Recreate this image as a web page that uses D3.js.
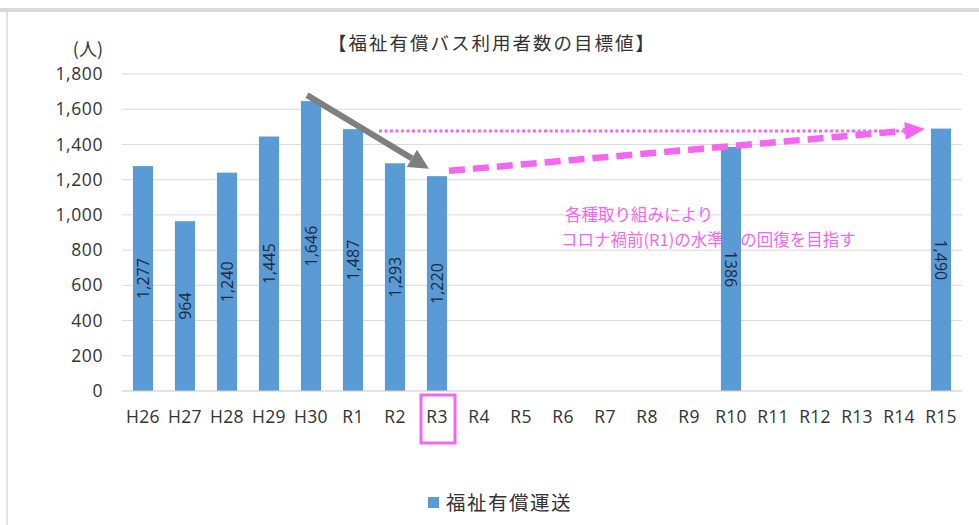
<!DOCTYPE html>
<html>
<head>
<meta charset="utf-8">
<script src="https://cdn.jsdelivr.net/npm/d3@7"></script>
<style>
  html, body { margin: 0; padding: 0; background: #fff; }
  svg { display: block; }
</style>
</head>
<body>
<div id="chart"></div>
<script>
// ---- data ----
const categories = ["H26","H27","H28","H29","H30","R1","R2","R3","R4","R5","R6","R7","R8","R9","R10","R11","R12","R13","R14","R15"];
const values = [1277, 964, 1240, 1445, 1646, 1487, 1293, 1220, null, null, null, null, null, null, 1386, null, null, null, null, 1490];
const dataLabels = ["1,277","964","1,240","1,445","1,646","1,487","1,293","1,220","","","","","","","1386","","","","","1,490"];
const yTicks = [0, 200, 400, 600, 800, 1000, 1200, 1400, 1600, 1800];
const title = "【福祉有償バス利用者数の目標値】";
const unitLabel = "(人)";
const seriesName = "福祉有償運送";
const noteLines = ["各種取り組みにより", "コロナ禍前(R1)の水準への回復を目指す"];
const currentYear = "R3";
const baselineYear = "R1";
const targetYear = "R15";
const peakYear = "H30";

const W = 979, H = 525;
const margin = {left: 122, right: 17, top: 74, bottom: 134};
const BLUE = "#5b9bd5", PINK = "#f466f0", GRAY = "#7f7f7f";
const FONT = "'Open Sans', 'Noto Sans CJK JP', sans-serif";
const JFONT = "'Noto Sans CJK JP', sans-serif";

const svg = d3.select("#chart").append("svg").attr("width", W).attr("height", H);

// frame
svg.append("rect").attr("x", 0).attr("y", 8).attr("width", W).attr("height", 4).attr("fill", "#d9d9d9");
svg.append("rect").attr("x", 6).attr("y", 12).attr("width", 2).attr("height", H - 12).attr("fill", "#e3e3e3");

const x = d3.scaleBand().domain(categories).range([margin.left, W - margin.right]).paddingInner(0.52).paddingOuter(0.26);
const y = d3.scaleLinear().domain([0, 1800]).range([H - margin.bottom, margin.top]);
const cx = c => x(c) + x.bandwidth() / 2;

// gridlines
svg.append("g").selectAll("line").data(yTicks).join("line")
  .attr("x1", margin.left).attr("x2", W - margin.right)
  .attr("y1", d => y(d)).attr("y2", d => y(d))
  .attr("stroke", "#d9d9d9").attr("stroke-width", 1);

// y axis labels
const yAxis = d3.axisLeft(y).tickValues(yTicks).tickFormat(d3.format(",")).tickSize(0).tickPadding(19);
const yg = svg.append("g").attr("transform", `translate(${margin.left},0)`).call(yAxis);
yg.select(".domain").remove();
yg.selectAll("text").attr("font-family", FONT).attr("font-size", 17.5).attr("fill", "#333").attr("letter-spacing", "0.6px");

// x axis labels
const xAxis = d3.axisBottom(x).tickSize(0).tickPadding(20);
const xg = svg.append("g").attr("transform", `translate(0,${y(0)})`).call(xAxis);
xg.select(".domain").remove();
xg.selectAll("text").attr("font-family", FONT).attr("font-size", 17.5).attr("fill", "#333").attr("letter-spacing", "0.3px");

// title and unit
svg.append("text").attr("x", 492).attr("y", 50).attr("text-anchor", "middle")
  .attr("font-family", JFONT).attr("font-size", 18.5).attr("letter-spacing", "2px").attr("fill", "#333").text(title);
svg.append("text").attr("x", 103).attr("y", 56).attr("text-anchor", "end")
  .attr("font-family", JFONT).attr("font-size", 18).attr("fill", "#333").text(unitLabel);

// note text (behind bars)
const note = svg.append("text").attr("font-family", JFONT).attr("font-size", 16.5).attr("fill", PINK);
noteLines.forEach((t, i) => {
  note.append("tspan").attr("x", i === 0 ? 565 : 561).attr("y", 221 + i * 25).text(t);
});

// bars
const data = categories.map((c, i) => ({c, v: values[i], label: dataLabels[i], i}));
const bars = data.filter(d => d.v != null);
svg.append("g").selectAll("rect").data(bars).join("rect")
  .attr("x", d => x(d.c)).attr("width", x.bandwidth())
  .attr("y", d => y(d.v)).attr("height", d => y(0) - y(d.v))
  .attr("fill", BLUE);

// data labels
const curIdx = categories.indexOf(currentYear);
svg.append("g").selectAll("text").data(bars).join("text")
  .attr("transform", d => {
    const yc = (y(d.v) + y(0)) / 2;
    const rot = d.i > curIdx ? 90 : -90;
    return `translate(${cx(d.c)},${yc}) rotate(${rot})`;
  })
  .attr("text-anchor", "middle").attr("dominant-baseline", "central")
  .attr("font-family", FONT).attr("font-size", 16).attr("fill", "#1c2a3a")
  .text(d => d.label);

// zero line
svg.append("line").attr("x1", margin.left).attr("x2", W - margin.right)
  .attr("y1", y(0)).attr("y2", y(0)).attr("stroke", "#d9d9d9");

// R3 highlight box
svg.append("rect").attr("x", cx(currentYear) - 16).attr("y", y(0) + 4)
  .attr("width", 34).attr("height", 48)
  .attr("fill", "none").attr("stroke", PINK).attr("stroke-width", 3);

// arrows
function arrow(x1, y1, x2, y2, color, width, headLen, headW, dash) {
  const ang = Math.atan2(y2 - y1, x2 - x1);
  const bx = x2 - headLen * Math.cos(ang), by = y2 - headLen * Math.sin(ang);
  const line = svg.append("line").attr("x1", x1).attr("y1", y1).attr("x2", bx).attr("y2", by)
    .attr("stroke", color).attr("stroke-width", width);
  if (dash) line.attr("stroke-dasharray", dash);
  const px = -Math.sin(ang) * headW / 2, py = Math.cos(ang) * headW / 2;
  svg.append("path").attr("d", `M${x2},${y2}L${bx + px},${by + py}L${bx - px},${by - py}Z`).attr("fill", color);
}

// dotted reference at R1 level
svg.append("line")
  .attr("x1", cx(baselineYear) + 26).attr("x2", cx(targetYear) - 38)
  .attr("y1", y(values[categories.indexOf(baselineYear)]) + 2)
  .attr("y2", y(values[categories.indexOf(baselineYear)]) + 2)
  .attr("stroke", PINK).attr("stroke-width", 3).attr("stroke-dasharray", "3,2.5");

// gray decline arrow
arrow(cx(peakYear) - 4, y(1680), cx(currentYear) - 8, y(1262), GRAY, 6, 20, 20);

// pink dashed recovery arrow
arrow(cx(currentYear) + 12, y(1250), cx(targetYear) - 16, y(1487), PINK, 6.5, 20, 18, "16,8");

// legend
svg.append("rect").attr("x", 428).attr("y", 497).attr("width", 11).attr("height", 11).attr("fill", BLUE);
svg.append("text").attr("x", 446).attr("y", 510).attr("font-family", JFONT).attr("font-size", 19.5)
  .attr("letter-spacing", "1.5px").attr("fill", "#333").text(seriesName);
</script>
</body>
</html>
